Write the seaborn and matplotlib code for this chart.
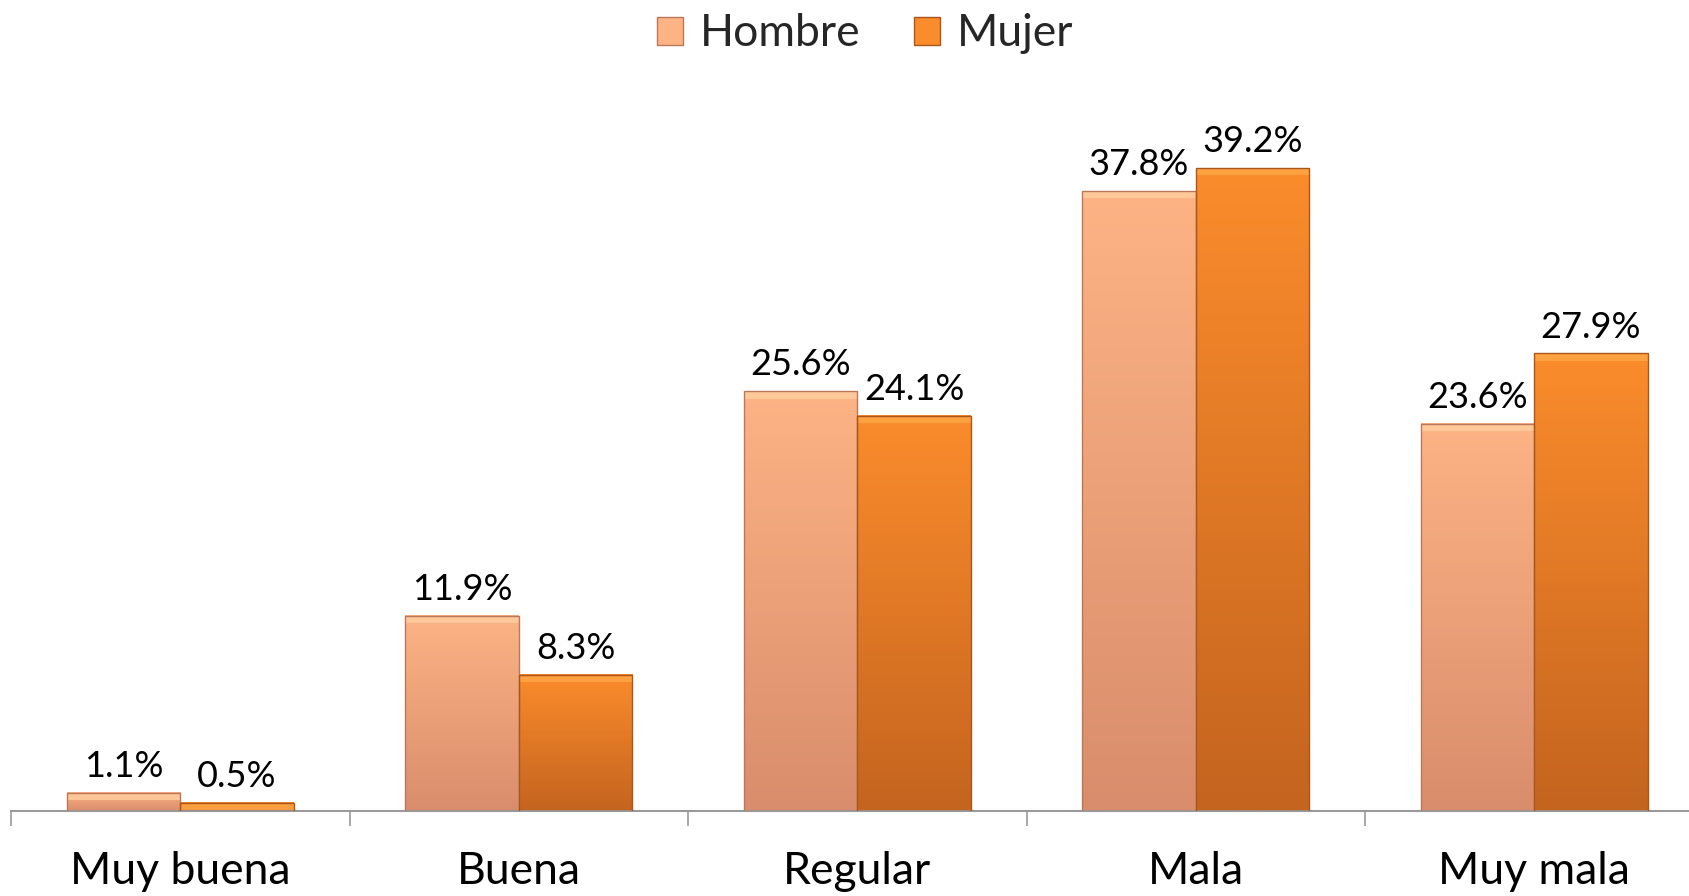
import numpy as np
import pandas as pd
import matplotlib
matplotlib.use("Agg")
import matplotlib.pyplot as plt
import seaborn as sns
from matplotlib.colors import to_rgb
from matplotlib.patches import Rectangle

categories = ["Muy buena", "Buena", "Regular", "Mala", "Muy mala"]
series = ["Hombre", "Mujer"]
hombre = [1.1, 11.9, 25.6, 37.8, 23.6]
mujer = [0.5, 8.3, 24.1, 39.2, 27.9]

top_colors = {"Hombre": "#FDB384", "Mujer": "#FB8C2C"}
bottom_colors = {"Hombre": "#D98D6C", "Mujer": "#C4641F"}
edge_colors = {"Hombre": "#B9785A", "Mujer": "#A8561A"}

df = pd.DataFrame({
    "cat": categories * 2,
    "serie": ["Hombre"] * 5 + ["Mujer"] * 5,
    "val": hombre + mujer,
})

sns.set_theme(style="white")
plt.rcParams["font.family"] = ["Lato", "DejaVu Sans"]

fig = plt.figure(figsize=(16.9, 8.96), dpi=100)
ax = fig.add_axes([11 / 1690, (896 - 811) / 896, 1 - 11 / 1690, (811 - 73) / 896])

sns.barplot(data=df, x="cat", y="val", hue="serie", order=categories,
            hue_order=series, palette=top_colors, width=0.67, gap=0,
            saturation=1, ax=ax, legend=False)

ymax = 45
bars = [p for p in ax.patches if isinstance(p, Rectangle) and p.get_height() > 0]
for p in bars:
    x, w, h = p.get_x(), p.get_width(), p.get_height()
    cx = x + w / 2
    ccenter = round(cx)
    s = "Hombre" if cx < ccenter else "Mujer"
    t = np.array(to_rgb(top_colors[s]))
    b = np.array(to_rgb(bottom_colors[s]))
    n = 200
    frac = np.linspace(0, 1, n)[:, None]
    col = t * (1 - frac) + b * frac
    img = np.repeat(col[:, None, :], 2, axis=1)
    ax.imshow(img, extent=[x, x + w, 0, h], aspect="auto", zorder=2,
              interpolation="bilinear")
    p.set_facecolor("none")
    p.set_edgecolor(edge_colors[s])
    p.set_linewidth(1.0)
    p.set_zorder(3)
    bev = min(0.45, h)
    hl = np.clip(t + 0.10, 0, 1)
    ax.add_patch(Rectangle((x, h - bev), w, bev, facecolor=hl,
                           edgecolor="none", zorder=2.5, alpha=0.85))

for i, c in enumerate(categories):
    for j, (s, vals) in enumerate(zip(series, [hombre, mujer])):
        xpos = i + (-0.1675 if j == 0 else 0.1675)
        ax.annotate(f"{vals[i]:.1f}%", (xpos, vals[i]), xytext=(0, 7),
                    textcoords="offset points", ha="center", va="bottom",
                    fontsize=26, color="black")

ax.set_xlim(-0.5, 4.5 - 0.04)
ax.set_ylim(0, ymax)
ax.set_xlabel("")
ax.set_ylabel("")
ax.set_yticks([])
for sp in ["top", "right", "left"]:
    ax.spines[sp].set_visible(False)
ax.spines["bottom"].set_color("#9A9A9A")
ax.spines["bottom"].set_linewidth(1.5)

ax.set_xticks(range(len(categories)))
ax.set_xticklabels(categories, fontsize=32, color="black")
ax.set_xticks(np.arange(-0.5, 4.5, 1.0), minor=True)
ax.tick_params(axis="x", which="major", length=0, pad=29)
ax.tick_params(axis="x", which="minor", length=11, width=1.2,
               color="#9A9A9A", direction="out", bottom=True)

handles = [Rectangle((0, 0), 1, 1, facecolor=top_colors[s],
                     edgecolor=edge_colors[s], linewidth=1) for s in series]
fig.legend(handles, series, loc="center", bbox_to_anchor=(865 / 1690, 1 - 34 / 896),
           ncol=2, frameon=False, fontsize=32, handlelength=0.6,
           handleheight=0.6, handletextpad=0.37, columnspacing=1.2)

fig.savefig("out.png", dpi=100)
